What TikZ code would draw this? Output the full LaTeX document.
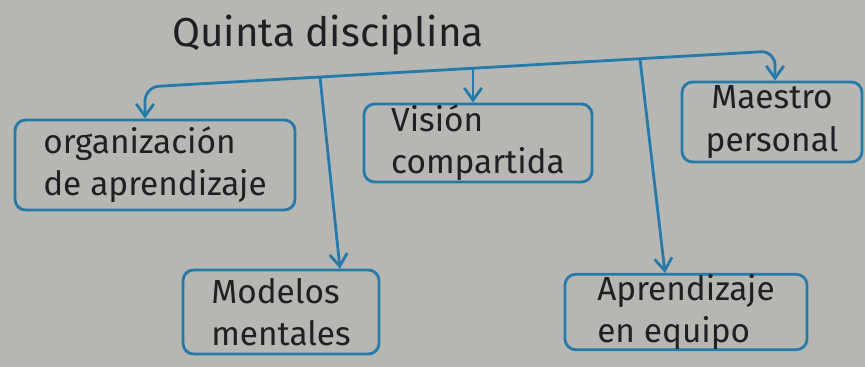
\documentclass[tikz,border=0pt]{standalone}
\usepackage{fontspec}
\setmainfont{Fira Sans}
\usetikzlibrary{arrows.meta}
\definecolor{paper}{RGB}{182,182,179}
\definecolor{ink}{RGB}{38,122,170}
\definecolor{pen}{RGB}{32,32,36}
\begin{document}
\begin{tikzpicture}[x=0.02cm,y=-0.02cm,
  box/.style={draw=ink,line width=1.6pt,rounded corners=6pt,text=pen,
    font=\fontsize{19}{24}\selectfont,align=left,inner sep=0pt},
  link/.style={draw=ink,line width=1.6pt,-{Straight Barb[length=7pt,width=10pt]}},
  title/.style={text=pen,font=\fontsize{23}{27}\selectfont}]
\fill[paper] (0,0) rectangle (865,367);
\useasboundingbox (0,0) rectangle (865,367);

\node[title] (t) at (328,35) {Quinta disciplina};

\node[box,minimum width=5.6cm,minimum height=1.8cm] (org) at (155,165) {organización\\de aprendizaje};
\node[box,minimum width=4.56cm,minimum height=1.56cm] (vis) at (478,143) {Visión\\compartida};
\node[box,minimum width=3.6cm,minimum height=1.6cm,align=center] (mae) at (772,122) {Maestro\\personal};
\node[box,minimum width=3.92cm,minimum height=1.68cm] (mod) at (281,312) {Modelos\\mentales};
\node[box,minimum width=4.84cm,minimum height=1.4cm] (apr) at (686,312) {Aprendizaje\\en equipo};

\coordinate (tl) at (145,87);
\coordinate (tr) at (775,51);
\coordinate (bv) at (473,68);
\coordinate (bm) at (320,77);
\coordinate (ba) at (640,59);

\draw[draw=ink,line width=1.6pt,rounded corners=8pt,
  {Straight Barb[length=7pt,width=10pt]}-{Straight Barb[length=7pt,width=10pt]}]
  (tl |- org.north) -- (tl) -- (tr) -- (tr |- mae.north);
\draw[link] (bv) -- (bv |- vis.north);
\draw[link] (bm) -- ([xshift=1.18cm]mod.north);
\draw[link] (ba) -- ([xshift=-0.42cm]apr.north);
\end{tikzpicture}
\end{document}
